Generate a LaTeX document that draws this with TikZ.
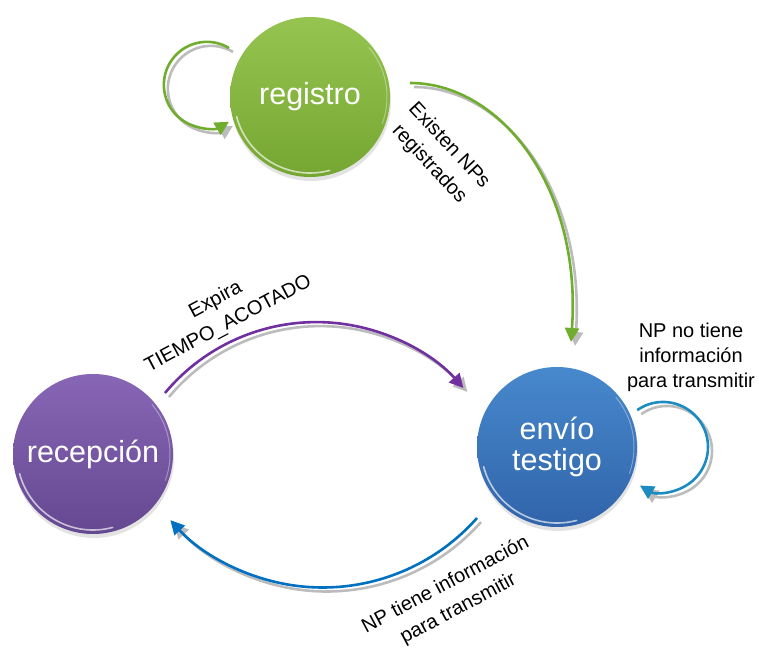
\documentclass[tikz,border=0pt]{standalone}
\usepackage{fontspec}
\setmainfont{Liberation Sans}
\usetikzlibrary{calc,arrows.meta,shadows}

% state fills
\definecolor{grA}{RGB}{150,196,80}
\definecolor{grB}{RGB}{118,166,50}
\definecolor{blA}{RGB}{72,136,204}
\definecolor{blB}{RGB}{48,100,170}
\definecolor{puA}{RGB}{136,102,182}
\definecolor{puB}{RGB}{100,72,144}
% connector colours
\definecolor{cGreen}{RGB}{112,172,46}
\definecolor{cPurple}{RGB}{112,48,160}
\definecolor{cBlue}{RGB}{0,112,192}
\definecolor{cTeal}{RGB}{28,140,192}
\definecolor{cShadow}{RGB}{188,188,188}

% connector with a grey shadow copy underneath
\newcommand\shconn[2]{%
  \draw[conn, cShadow, transform canvas={shift={(4pt,-4pt)}}] #2;
  \draw[conn, #1] #2;}

\begin{document}
\begin{tikzpicture}[x=1pt,y=1pt,
  state/.style={circle, minimum size=160pt, inner sep=0pt, text=white,
    font=\fontsize{30.5}{31}\selectfont, align=center,
    drop shadow={opacity=0.22, shadow xshift=1pt, shadow yshift=-4pt}},
  conn/.style={line width=2.6pt, -{Triangle[length=14pt,width=14pt]}},
  lbl/.style={font=\fontsize{20}{25}\selectfont, align=center, inner sep=0pt},
  rlbl/.style={font=\fontsize{20}{27}\selectfont, align=center, inner sep=0pt},
  shine/.style={white, line width=1.6pt, opacity=0.65, line cap=round}]
\useasboundingbox (0,0) rectangle (759,647);

% states
\node[state, top color=grA, bottom color=grB] (reg) at (310,550) {registro};
\node[state, top color=blA, bottom color=blB] (env) at (557,200) {envío\\testigo};
\node[state, top color=puA, bottom color=puB] (rec) at (93,193) {recepción};

% glossy rim on each state
\foreach \n in {reg,env,rec}{
  \draw[shine] ($(\n.center)+(195:76)$) arc[start angle=195,end angle=285,radius=76];
  \draw[shine, opacity=0.35, line width=1pt] ($(\n.center)+(-20:77)$) arc[start angle=-20,end angle=40,radius=77];
}

% transitions
\shconn{cGreen}{($(reg.center)+(-81,49)$) arc[start angle=59,end angle=301,radius=43]}
\shconn{cGreen}{($(reg.center)+(100,14)$) .. controls ($(reg.center)+(190,14)$) and ($(env.center)+(25,260)$) .. ($(env.center)+(14,105)$)}
\shconn{cPurple}{($(rec.center)+(72,61)$) arc[start angle=140.2,end angle=41.7,radius=197]}
\shconn{cBlue}{($(env.center)+(-80,-71)$) arc[start angle=-41.5,end angle=-137.7,radius=206]}
\shconn{cTeal}{($(env.center)+(80.2,36.9)$) arc[start angle=125,end angle=-121,radius=45]}

% labels
\node[rlbl, rotate=-47] (l1) at (439,492) {Existen NPs\\registrados};
\node[rlbl, rotate=28] (l2) at (222,335) {Expira\\TIEMPO\_ACOTADO};
\node[rlbl, rotate=28] (l3) at (452,50) {NP tiene información\\para transmitir};
\node[lbl] (l4) at (691,290) {NP no tiene\\información\\para transmitir};
\end{tikzpicture}
\end{document}
